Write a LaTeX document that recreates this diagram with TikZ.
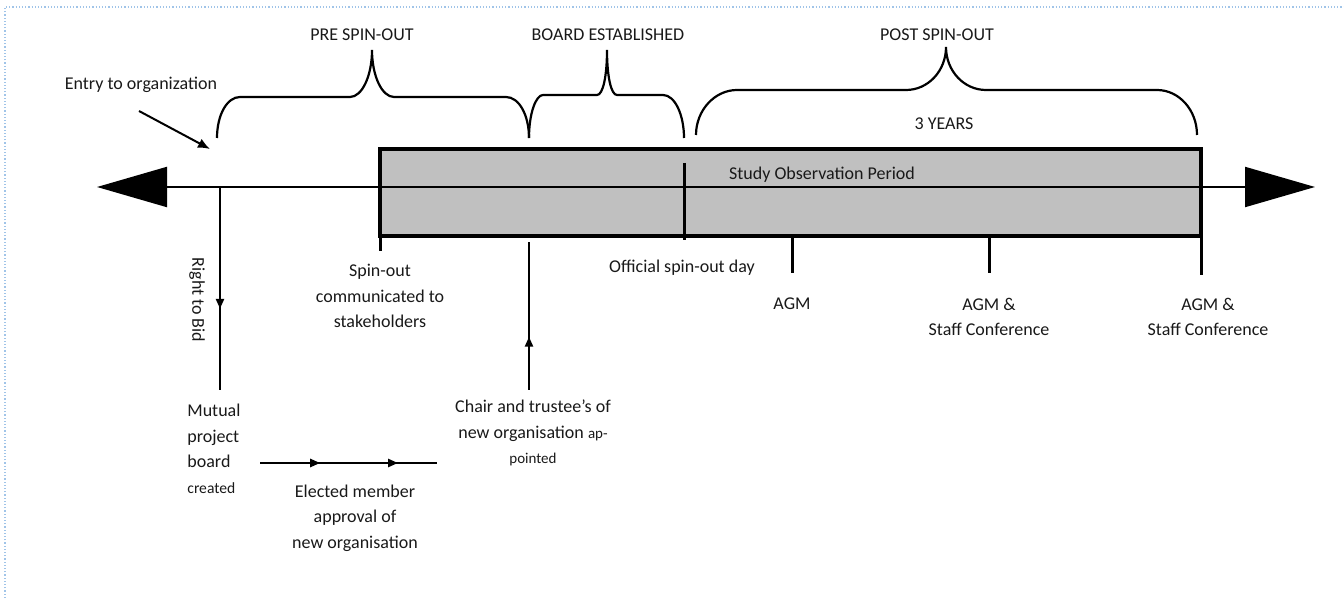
\documentclass[tikz,border=0pt]{standalone}
\usepackage{fontspec}
\setmainfont{Carlito}
\usetikzlibrary{arrows.meta,positioning,decorations.markings}

\definecolor{periodgray}{RGB}{192,192,192}
\definecolor{frameblue}{RGB}{160,196,232}
\definecolor{inkgray}{RGB}{25,25,25}

\newcommand{\smalltxt}{\fontsize{7.5}{9}\selectfont}

\begin{document}
\begin{tikzpicture}[x=0.5pt,y=-0.5pt,
    lbl/.style={font=\fontsize{9}{12.8}\selectfont, text=inkgray, inner sep=0pt, align=center},
    tick/.style={line width=1.5pt},
    vline/.style={line width=1.2pt},
    phase/.style={line width=1.1pt},
    midarrow/.style={postaction={decorate,
        decoration={markings, mark=at position #1 with {\arrow{Triangle[length=5pt,width=4pt]}}}}}]
  \useasboundingbox (0,0) rectangle (1344,598);

  % page frame
  \draw[frameblue, densely dotted, line width=0.6pt] (5,598) -- (5,7) -- (1344,7);

  % observation period
  \draw[fill=periodgray, line width=1.7pt] (380,149) rectangle (1201,236);
  \node[lbl] (study) at (822,175) {Study Observation Period};

  % timeline
  \coordinate (tlL) at (97,187);
  \coordinate (tlR) at (1315,187);
  \draw[line width=1pt, {Triangle[length=35pt,width=20pt]}-{Triangle[length=35pt,width=20pt]}] (tlL) -- (tlR);

  % ticks
  \draw[tick] (380,236) -- (380,251);
  \draw[tick] (684,163) -- (684,240);
  \draw[tick] (792,236) -- (792,273);
  \draw[tick] (989,236) -- (989,273);
  \draw[tick] (1201,236) -- (1201,275);

  % braces
  \draw[phase] (217,138) .. controls (217,115) and (227,97) .. (240,97) -- (350,97)
    .. controls (362,97) and (372,76) .. (372,50) .. controls (372,76) and (382,97) .. (394,97)
    -- (506,97) .. controls (519,97) and (529,115) .. (529,138);
  \draw[phase] (529,138) .. controls (529,113) and (536,95) .. (543,95) -- (597,95)
    .. controls (603,95) and (607,76) .. (607,50) .. controls (607,76) and (611,95) .. (617,95)
    -- (663,95) .. controls (675,95) and (684,115) .. (684,138);
  \draw[phase] (696,135) .. controls (696,110) and (715,90) .. (737,90) -- (906,90)
    .. controls (928,90) and (946,71) .. (946,47) .. controls (946,71) and (964,90) .. (986,90)
    -- (1157,90) .. controls (1179,90) and (1197,110) .. (1197,135);

  \node[lbl] (pre) at (362,35) {PRE SPIN-OUT};
  \node[lbl] (board) at (608,35) {BOARD ESTABLISHED};
  \node[lbl] (post) at (937,35) {POST SPIN-OUT};
  \node[lbl] (years) at (944,124) {3 YEARS};

  % entry
  \node[lbl] (entry) at (141,85) {Entry to organization};
  \coordinate (entryStart) at (139,111);
  \coordinate (entryEnd) at (210,149);
  \draw[line width=1pt, -{Latex[length=6pt,width=5pt]}] (entryStart) -- (entryEnd);

  % right to bid
  \coordinate (bidTop) at (220,187);
  \coordinate (bidEnd) at (220,390);
  \draw[vline, midarrow=0.6] (bidTop) -- (bidEnd);
  \node[lbl, rotate=-90] (bid) at (197,300) {Right to Bid};
  \node[lbl, anchor=west, align=left] (mutual) at (187,449) {Mutual\\project\\board\\{\fontsize{7.8}{9}\selectfont created}};

  % elected member approval
  \coordinate (elA) at (260,463);
  \coordinate (elB) at (437,463);
  \draw[vline, midarrow=0.34, midarrow=0.78] (elA) -- (elB);
  \node[lbl] (elected) at (355,518) {Elected member\\approval of\\new organisation};

  % chair appointed
  \coordinate (chairFoot) at (529,390);
  \coordinate (chairHead) at (529,242);
  \draw[vline, midarrow=0.36] (chairFoot) -- (chairHead);
  \node[lbl] (chair) at (533,433) {Chair and trustee’s of\\new organisation {\smalltxt ap-}\\{\smalltxt pointed}};

  % milestones
  \node[lbl] (spin) at (380,296) {Spin-out\\communicated to\\stakeholders};
  \node[lbl] (official) at (682,268) {Official spin-out day};
  \node[lbl] (agm1) at (792,304) {AGM};
  \node[lbl] (agm2) at (989,317) {AGM \&\\Staff Conference};
  \node[lbl] (agm3) at (1208,317) {AGM \&\\Staff Conference};
\end{tikzpicture}
\end{document}
